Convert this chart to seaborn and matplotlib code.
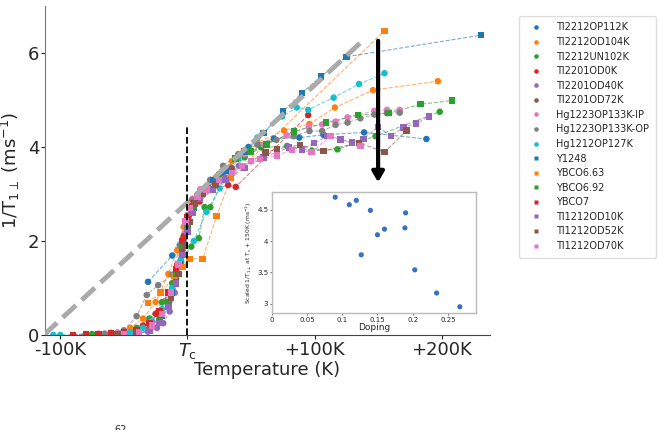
import numpy as np
import pandas as pd
import matplotlib
matplotlib.use("Agg")
import matplotlib.pyplot as plt
import seaborn as sns

# temperature relative to Tc (K) and 1/T1 (ms^-1)
tl2212op112k_t = [-31, -12, -2, 5, 15, 28, 48, 68, 88, 107, 139, 188]
tl2212op112k_y = [1.13, 1.69, 2.3, 2.75, 3.1, 3.45, 4.0, 4.18, 4.2, 4.26, 4.31, 4.17]
tl2212od104k_t = [-60, -45, -35, -25, -15, -8, -3, 3, 10, 20, 35, 55, 76, 96, 116, 146, 197]
tl2212od104k_y = [0.05, 0.15, 0.35, 0.7, 1.3, 1.8, 2.3, 2.75, 3.0, 3.3, 3.7, 4.1, 4.35, 4.49, 4.84, 5.21, 5.40]
tl2212un102k_t = [-75, -55, -40, -30, -20, -12, -5, 3, 9, 13.5, 18, 28, 45, 58, 78.5, 98, 118, 148, 198.5]
tl2212un102k_y = [0.02, 0.05, 0.15, 0.35, 0.7, 1.1, 1.55, 1.88, 2.06, 2.72, 2.72, 3.3, 3.78, 3.99, 4.02, 3.92, 3.95, 4.23, 4.75]
tl2201od0k_t = [-50, -35, -25, -15, -8, -3, 0, 5, 9.6, 20, 32, 38, 95]
tl2201od0k_y = [0.05, 0.2, 0.45, 0.9, 1.5, 2.1, 2.52, 2.75, 2.84, 3.1, 3.19, 3.15, 4.68]
tl2201od40k_t = [-60, -45, -31, -24, -19, -14, -10, -6, -3, 0, 5, 12, 22, 30, 40.5]
tl2201od40k_y = [0.0, 0.02, 0.07, 0.15, 0.25, 0.5, 0.9, 1.5, 2.0, 2.4, 2.75, 3.0, 3.2, 3.35, 3.6]
tl2201od72k_t = [-80, -55, -40, -30, -22, -15, -9, -4, 0, 4, 10, 16, 25, 35]
tl2201od72k_y = [0.0, 0.02, 0.05, 0.15, 0.35, 0.7, 1.2, 1.8, 2.4, 2.85, 3.05, 3.15, 3.35, 3.55]
hg1223ip_t = [-70, -55, -40, -30, -22, -15, -9, -4, 0, 4, 10, 18, 30, 45, 60, 78, 95.5, 106, 116.5, 126, 147, 157, 167]
hg1223ip_y = [0.03, 0.05, 0.1, 0.25, 0.5, 0.9, 1.4, 2.0, 2.5, 2.9, 3.1, 3.3, 3.55, 3.85, 4.05, 4.25, 4.43, 4.48, 4.54, 4.63, 4.77, 4.79, 4.79]
hg1223op_t = [-65, -50, -40, -32, -23, -12, -6, 0, 3.7, 10, 18, 28, 40, 55, 70, 83.5, 96, 106, 116.5, 126, 136, 147, 157, 167]
hg1223op_y = [0.03, 0.1, 0.4, 0.85, 1.06, 1.28, 1.9, 2.55, 2.87, 3.05, 3.3, 3.6, 3.85, 4.05, 4.15, 4.23, 4.34, 4.34, 4.47, 4.52, 4.61, 4.69, 4.72, 4.73]
hg1212op127k_t = [-112.6, -105.5, -100, -80, -60, -45, -35, -28, -20, -12, -5, 5, 15, 25.4, 40, 55, 74.5, 86, 95, 115, 135, 155]
hg1212op127k_y = [0.0, 0.0, 0.0, 0.02, 0.03, 0.06, 0.15, 0.3, 0.55, 1.0, 1.6, 2.0, 2.62, 3.12, 3.75, 4.2, 4.65, 4.84, 4.79, 5.05, 5.34, 5.57]
y1248_t = [-20, -12, -6, 0, 5, 10, 20, 30, 45, 60, 75, 90, 105, 125, 231]
y1248_y = [0.4, 0.9, 1.5, 2.2, 2.7, 3.0, 3.3, 3.5, 3.9, 4.3, 4.75, 5.15, 5.5, 5.92, 6.38]
ybco663_t = [-31, -21, -10, -4, 1.6, 12, 23, 34, 155]
ybco663_y = [0.68, 0.9, 1.25, 1.45, 1.62, 1.62, 2.53, 3.34, 6.47]
ybco692_t = [-40, -30, -22, -15, -9, -4, 0, 5, 12, 25, 38, 50, 62, 84, 109, 134, 158, 183.5, 208]
ybco692_y = [0.03, 0.1, 0.3, 0.7, 1.3, 1.9, 2.3, 2.75, 3.0, 3.4, 3.75, 3.9, 4.05, 4.33, 4.52, 4.68, 4.72, 4.91, 4.99]
ybco7_t = [-90, -80, -70, -60, -50, -40, -30, -22, -15, -9, -4, 0, 4, 8, 15]
ybco7_y = [0.0, 0.02, 0.02, 0.03, 0.05, 0.1, 0.25, 0.5, 0.9, 1.4, 2.0, 2.5, 2.8, 2.95, 3.1]
tl1212od10k_t = [-40, -30, -22, -15, -9, -4, 0, 4, 10, 20, 30, 45, 60, 80, 90, 99.5, 110, 120.5, 129.5, 138.6, 150, 160, 170, 180, 190]
tl1212od10k_y = [0.02, 0.08, 0.25, 0.6, 1.1, 1.7, 2.2, 2.6, 2.9, 3.1, 3.3, 3.55, 3.78, 3.99, 3.95, 4.08, 4.23, 4.16, 4.1, 4.17, 4.43, 4.23, 4.42, 4.5, 4.65]
tl1212od52k_t = [-55, -40, -28, -20, -13, -7, -2, 2, 6, 12, 22, 35, 50, 61.4, 70.6, 88.5, 107, 135, 155, 172.5]
tl1212od52k_y = [0.02, 0.05, 0.2, 0.45, 0.8, 1.3, 1.9, 2.4, 2.8, 3.0, 3.2, 3.45, 3.7, 3.88, 3.96, 4.04, 3.92, 4.09, 3.89, 4.35]
tl1212od70k_t = [-50, -38, -28, -20, -13, -7, -1.6, 2, 8, 15, 25, 35, 43, 50, 57, 70.6, 82.4, 97.6, 112.6, 136]
tl1212od70k_y = [0.02, 0.06, 0.2, 0.45, 0.9, 1.5, 2.41, 2.7, 2.95, 3.1, 3.3, 3.45, 3.6, 3.7, 3.74, 3.82, 3.94, 3.89, 4.23, 4.02]

labels = ["Tl2212OP112K", "Tl2212OD104K", "Tl2212UN102K", "Tl2201OD0K", "Tl2201OD40K",
          "Tl2201OD72K", "Hg1223OP133K-IP", "Hg1223OP133K-OP", "Hg1212OP127K", "Y1248",
          "YBCO6.63", "YBCO6.92", "YBCO7", "Tl1212OD10K", "Tl1212OD52K", "Tl1212OD70K"]
series_t = [tl2212op112k_t, tl2212od104k_t, tl2212un102k_t, tl2201od0k_t, tl2201od40k_t,
            tl2201od72k_t, hg1223ip_t, hg1223op_t, hg1212op127k_t, y1248_t,
            ybco663_t, ybco692_t, ybco7_t, tl1212od10k_t, tl1212od52k_t, tl1212od70k_t]
series_y = [tl2212op112k_y, tl2212od104k_y, tl2212un102k_y, tl2201od0k_y, tl2201od40k_y,
            tl2201od72k_y, hg1223ip_y, hg1223op_y, hg1212op127k_y, y1248_y,
            ybco663_y, ybco692_y, ybco7_y, tl1212od10k_y, tl1212od52k_y, tl1212od70k_y]

# inset: scaled rate at Tc + 150K vs doping
doping = [0.09, 0.11, 0.12, 0.127, 0.14, 0.15, 0.16, 0.189, 0.19, 0.203, 0.234, 0.267]
scaled_rate = [4.70, 4.58, 4.65, 3.78, 4.49, 4.10, 4.19, 4.21, 4.45, 3.54, 3.17, 2.95]

tab = sns.color_palette("tab10")
colors = [tab[0], tab[1], tab[2], tab[3], tab[4], tab[5], tab[6], tab[7], tab[9],
          tab[0], tab[1], tab[2], tab[3], tab[4], tab[5], tab[6]]
marks = ["o"] * 9 + ["s"] * 7

rows = []
for name, ts, ys in zip(labels, series_t, series_y):
    for t, y in zip(ts, ys):
        rows.append((name, t, y))
df = pd.DataFrame(rows, columns=["sample", "T", "rate"])
pal = dict(zip(labels, colors))
mk = dict(zip(labels, marks))

sns.set_style("ticks")
plt.rcParams['font.family'] = ['DejaVu Sans']

fig = plt.figure(figsize=(6.63, 4.30), dpi=100)
ax = fig.add_axes([0.068, 0.221, 0.671, 0.765])

sns.lineplot(data=df, x="T", y="rate", hue="sample", palette=pal, estimator=None, sort=False,
             legend=False, linestyle="--", linewidth=0.8, alpha=0.6, ax=ax)
sns.scatterplot(data=df, x="T", y="rate", hue="sample", style="sample", palette=pal,
                markers=mk, s=22, edgecolor="none", ax=ax, zorder=3)

# linear guide and Tc marker
ax.plot([-113, 137], [0, 6.24], color="#aaaaaa", lw=3.5, ls="--", zorder=4)
ax.vlines(0, 0, 4.47, colors="k", linestyles="--", lw=1.3, zorder=5)
ax.annotate("", xy=(150, 3.19), xytext=(150, 6.32),
            arrowprops=dict(arrowstyle="-|>,head_width=0.35,head_length=0.6", lw=3, color="k"),
            zorder=6)

ax.set_xlim(-112, 238)
ax.set_ylim(0, 7)
ax.set_xticks([-100, 0, 100, 200])
ax.set_xticklabels(["-100K", r"$T_\mathrm{c}$", "+100K", "+200K"], fontsize=13)
ax.set_yticks([0, 2, 4, 6])
ax.set_yticklabels(["0", "2", "4", "6"], fontsize=13)
ax.tick_params(length=3, width=0.8, pad=1)
ax.set_xlabel("Temperature (K)", fontsize=13, labelpad=0)
ax.set_ylabel(r"1/T$_{1\perp}$ (ms$^{-1}$)", fontsize=13, labelpad=4)
sns.despine(ax=ax)
ax.spines["left"].set_color("#777777")
ax.spines["bottom"].set_color("#444444")

ax.legend(loc="upper left", bbox_to_anchor=(0.776, 0.975), bbox_transform=fig.transFigure,
          fontsize=7, markerscale=0.7, frameon=True, framealpha=1, edgecolor="#dddddd",
          borderpad=0.7, labelspacing=0.47, handletextpad=1.1, handlelength=2.0)

# inset
axin = fig.add_axes([0.41, 0.272, 0.308, 0.281])
sns.scatterplot(x=doping, y=scaled_rate, color="#3a70c0", s=14, edgecolor="none", ax=axin)
axin.set_xlim(0, 0.29)
axin.set_ylim(2.85, 4.78)
axin.set_xticks([0, 0.05, 0.1, 0.15, 0.2, 0.25])
axin.set_xticklabels(["0", "0.05", "0.1", "0.15", "0.2", "0.25"])
axin.set_yticks([3, 3.5, 4, 4.5])
axin.set_yticklabels(["3", "3.5", "4", "4.5"])
axin.tick_params(labelsize=5, length=1.5, width=0.5, pad=1)
axin.set_xlabel("Doping", fontsize=6.5, labelpad=0)
axin.set_ylabel(r"Scaled 1/T$_{1\perp}$ at T$_\mathrm{c}$ + 150K (ms$^{-1}$)", fontsize=4.3, labelpad=2)
for sp in axin.spines.values():
    sp.set_color("#bbbbbb")
    sp.set_linewidth(1.0)

fig.text(0.172, 0.0, "62", fontsize=7, va="center")

fig.savefig("out.png", dpi=100)
